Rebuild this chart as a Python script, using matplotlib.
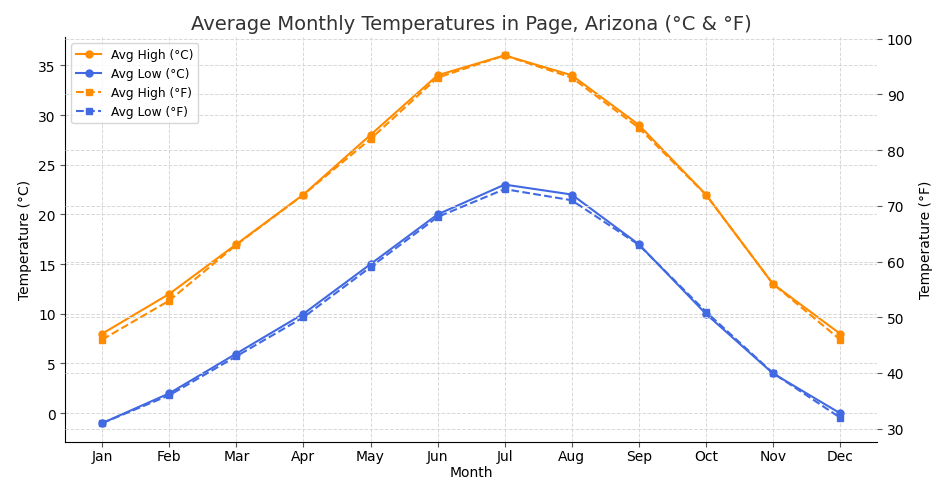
import matplotlib.pyplot as plt

months = ["Jan", "Feb", "Mar", "Apr", "May", "Jun", "Jul", "Aug", "Sep", "Oct", "Nov", "Dec"]
high_c = [8, 12, 17, 22, 28, 34, 36, 34, 29, 22, 13, 8]
low_c = [-1, 2, 6, 10, 15, 20, 23, 22, 17, 10, 4, 0]
high_f = [46, 53, 63, 72, 82, 93, 97, 93, 84, 72, 56, 46]
low_f = [31, 36, 43, 50, 59, 68, 73, 71, 63, 51, 40, 32]

ORANGE = "#FF8C00"
BLUE = "#4169E1"

fig, ax1 = plt.subplots(figsize=(9.47, 4.81), dpi=100)
fig.subplots_adjust(left=0.069, right=0.926, top=0.921, bottom=0.08)

l1, = ax1.plot(months, high_c, "-o", color=ORANGE, markersize=5, label="Avg High (°C)")
l2, = ax1.plot(months, low_c, "-o", color=BLUE, markersize=5, label="Avg Low (°C)")
ax1.set_xlabel("Month", fontsize=10, labelpad=1)
ax1.set_ylabel("Temperature (°C)", fontsize=10)
ax1.grid(True, linestyle="--", color="#d8d8d8", linewidth=0.7)

ax2 = ax1.twinx()
l3, = ax2.plot(months, high_f, "--s", color=ORANGE, markersize=5, label="Avg High (°F)")
l4, = ax2.plot(months, low_f, "--s", color=BLUE, markersize=5, label="Avg Low (°F)")
ax2.set_ylabel("Temperature (°F)", fontsize=10)
ax2.grid(True, linestyle="--", color="#d8d8d8", linewidth=0.7)

for ax in (ax1, ax2):
    ax.spines["top"].set_visible(False)
    ax.spines["right"].set_visible(False)
    ax.tick_params(labelsize=10, color="#555555")
ax1.tick_params(axis="x", pad=2)
ax2.spines["left"].set_visible(False)
ax2.spines["bottom"].set_visible(False)

ax1.set_title("Average Monthly Temperatures in Page, Arizona (°C & °F)", fontsize=14, color="#333333")
lines = [l1, l2, l3, l4]
leg = ax2.legend(lines, [l.get_label() for l in lines], loc="upper left", fontsize=8.8)
leg.set_zorder(10)

plt.savefig("out.png", dpi=100)
